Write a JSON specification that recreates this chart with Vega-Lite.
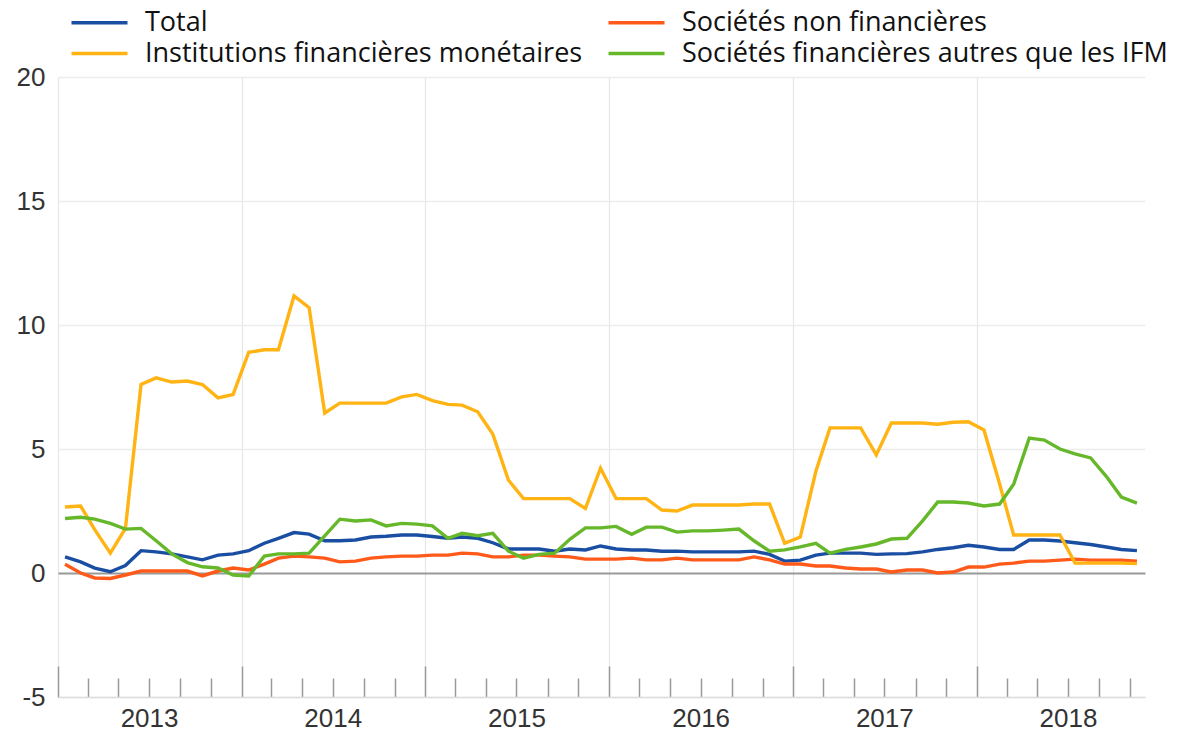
{
  "$schema": "https://vega.github.io/schema/vega-lite/v6.json",
  "width": 1087,
  "height": 620,
  "autosize": {"type": "none"},
  "padding": {"left": 58, "top": 77, "right": 48, "bottom": 34},
  "background": "white",
  "config": {"view": {"stroke": null}, "font": "Liberation Sans"},
  "data": {"values": [
    {"date":"2013-01-15","T":0.65,"S":0.35,"I":2.66,"F":2.2},
    {"date":"2013-02-15","T":0.45,"S":0.0,"I":2.7,"F":2.25},
    {"date":"2013-03-15","T":0.2,"S":-0.2,"I":1.75,"F":2.17},
    {"date":"2013-04-15","T":0.05,"S":-0.22,"I":0.8,"F":2.0},
    {"date":"2013-05-15","T":0.3,"S":-0.08,"I":1.8,"F":1.77},
    {"date":"2013-06-15","T":0.9,"S":0.08,"I":7.6,"F":1.8},
    {"date":"2013-07-15","T":0.85,"S":0.08,"I":7.87,"F":1.3},
    {"date":"2013-08-15","T":0.77,"S":0.08,"I":7.7,"F":0.77},
    {"date":"2013-09-15","T":0.65,"S":0.08,"I":7.74,"F":0.42},
    {"date":"2013-10-15","T":0.53,"S":-0.12,"I":7.6,"F":0.25},
    {"date":"2013-11-15","T":0.72,"S":0.08,"I":7.06,"F":0.2},
    {"date":"2013-12-15","T":0.77,"S":0.2,"I":7.2,"F":-0.08},
    {"date":"2014-01-15","T":0.9,"S":0.12,"I":8.9,"F":-0.12},
    {"date":"2014-02-15","T":1.2,"S":0.36,"I":9.0,"F":0.68},
    {"date":"2014-03-15","T":1.4,"S":0.6,"I":9.0,"F":0.77},
    {"date":"2014-04-15","T":1.63,"S":0.68,"I":11.17,"F":0.77},
    {"date":"2014-05-15","T":1.57,"S":0.65,"I":10.7,"F":0.8},
    {"date":"2014-06-15","T":1.3,"S":0.6,"I":6.45,"F":1.5},
    {"date":"2014-07-15","T":1.3,"S":0.45,"I":6.85,"F":2.17},
    {"date":"2014-08-15","T":1.33,"S":0.48,"I":6.85,"F":2.1},
    {"date":"2014-09-15","T":1.45,"S":0.6,"I":6.85,"F":2.14},
    {"date":"2014-10-15","T":1.48,"S":0.65,"I":6.85,"F":1.9},
    {"date":"2014-11-15","T":1.53,"S":0.68,"I":7.1,"F":2.0},
    {"date":"2014-12-15","T":1.53,"S":0.68,"I":7.2,"F":1.97},
    {"date":"2015-01-15","T":1.47,"S":0.72,"I":6.95,"F":1.9},
    {"date":"2015-02-15","T":1.4,"S":0.72,"I":6.8,"F":1.4},
    {"date":"2015-03-15","T":1.45,"S":0.8,"I":6.77,"F":1.6},
    {"date":"2015-04-15","T":1.4,"S":0.77,"I":6.5,"F":1.5},
    {"date":"2015-05-15","T":1.22,"S":0.65,"I":5.6,"F":1.6},
    {"date":"2015-06-15","T":0.97,"S":0.65,"I":3.75,"F":0.88},
    {"date":"2015-07-15","T":0.97,"S":0.72,"I":3.0,"F":0.6},
    {"date":"2015-08-15","T":0.97,"S":0.72,"I":3.0,"F":0.75},
    {"date":"2015-09-15","T":0.88,"S":0.68,"I":3.0,"F":0.8},
    {"date":"2015-10-15","T":0.97,"S":0.65,"I":3.0,"F":1.36},
    {"date":"2015-11-15","T":0.93,"S":0.56,"I":2.6,"F":1.82},
    {"date":"2015-12-15","T":1.09,"S":0.56,"I":4.23,"F":1.82},
    {"date":"2016-01-15","T":0.97,"S":0.56,"I":3.0,"F":1.88},
    {"date":"2016-02-15","T":0.93,"S":0.6,"I":3.0,"F":1.56},
    {"date":"2016-03-15","T":0.93,"S":0.53,"I":3.0,"F":1.85},
    {"date":"2016-04-15","T":0.88,"S":0.53,"I":2.54,"F":1.85},
    {"date":"2016-05-15","T":0.88,"S":0.6,"I":2.5,"F":1.65},
    {"date":"2016-06-15","T":0.85,"S":0.53,"I":2.74,"F":1.7},
    {"date":"2016-07-15","T":0.85,"S":0.53,"I":2.74,"F":1.7},
    {"date":"2016-08-15","T":0.85,"S":0.53,"I":2.74,"F":1.73},
    {"date":"2016-09-15","T":0.85,"S":0.53,"I":2.74,"F":1.77},
    {"date":"2016-10-15","T":0.88,"S":0.65,"I":2.78,"F":1.3},
    {"date":"2016-11-15","T":0.75,"S":0.53,"I":2.78,"F":0.88},
    {"date":"2016-12-15","T":0.48,"S":0.36,"I":1.2,"F":0.93},
    {"date":"2017-01-15","T":0.52,"S":0.36,"I":1.45,"F":1.05},
    {"date":"2017-02-15","T":0.72,"S":0.28,"I":4.1,"F":1.2},
    {"date":"2017-03-15","T":0.8,"S":0.28,"I":5.85,"F":0.8},
    {"date":"2017-04-15","T":0.8,"S":0.2,"I":5.85,"F":0.95},
    {"date":"2017-05-15","T":0.8,"S":0.16,"I":5.85,"F":1.05},
    {"date":"2017-06-15","T":0.75,"S":0.16,"I":4.76,"F":1.17},
    {"date":"2017-07-15","T":0.77,"S":0.04,"I":6.05,"F":1.37},
    {"date":"2017-08-15","T":0.78,"S":0.12,"I":6.05,"F":1.4},
    {"date":"2017-09-15","T":0.85,"S":0.12,"I":6.05,"F":2.1},
    {"date":"2017-10-15","T":0.95,"S":0.0,"I":6.0,"F":2.86},
    {"date":"2017-11-15","T":1.02,"S":0.04,"I":6.08,"F":2.86},
    {"date":"2017-12-15","T":1.12,"S":0.24,"I":6.1,"F":2.82},
    {"date":"2018-01-15","T":1.05,"S":0.24,"I":5.77,"F":2.7},
    {"date":"2018-02-15","T":0.95,"S":0.36,"I":3.6,"F":2.78},
    {"date":"2018-03-15","T":0.95,"S":0.4,"I":1.53,"F":3.58},
    {"date":"2018-04-15","T":1.33,"S":0.48,"I":1.53,"F":5.44},
    {"date":"2018-05-15","T":1.33,"S":0.48,"I":1.53,"F":5.36},
    {"date":"2018-06-15","T":1.29,"S":0.52,"I":1.53,"F":5.0},
    {"date":"2018-07-15","T":1.22,"S":0.56,"I":0.4,"F":4.8},
    {"date":"2018-08-15","T":1.15,"S":0.52,"I":0.4,"F":4.64},
    {"date":"2018-09-15","T":1.05,"S":0.52,"I":0.4,"F":3.9},
    {"date":"2018-10-15","T":0.95,"S":0.52,"I":0.4,"F":3.06},
    {"date":"2018-11-15","T":0.9,"S":0.48,"I":0.38,"F":2.82}
  ]},
  "transform": [
    {"fold": ["T", "S", "I", "F"], "as": ["serie", "valeur"]}
  ],
  "mark": {"type": "line", "strokeWidth": 3.4, "clip": false},
  "encoding": {
    "x": {
      "field": "date",
      "type": "temporal",
      "scale": {"type": "utc", "domain": [{"year": 2013, "month": 1, "date": 1, "utc": true}, {"year": 2018, "month": 12, "date": 1, "utc": true}]},
      "axis": {
        "title": null,
        "tickCount": {"interval": "month", "step": 2},
        "labelExpr": "utcmonth(datum.value) == 6 ? utcFormat(datum.value, '%Y') : ''",
        "labelFont": "Liberation Sans",
        "labelFontSize": 26,
        "labelColor": "#333333",
        "labelPadding": 27,
        "labelAngle": 0,
        "labelOverlap": false,
        "labelFlush": false,
        "labelBound": false,
        "domainColor": "#dddddd",
        "domainWidth": 1.5,
        "tickColor": "#999999",
        "tickWidth": 1.5,
        "tickSize": {"condition": {"test": "utcmonth(datum.value) == 0", "value": -31}, "value": -19},
        "grid": true,
        "gridColor": "#e6e6e6",
        "gridWidth": 1.2,
        "gridOpacity": {"condition": {"test": "utcmonth(datum.value) == 0", "value": 1}, "value": 0}
      }
    },
    "y": {
      "field": "valeur",
      "type": "quantitative",
      "scale": {"domain": [-5, 20], "nice": false, "zero": false},
      "axis": {
        "title": null,
        "values": [-5, 0, 5, 10, 15, 20],
        "labelExpr": "datum.value < 0 ? '-' + abs(datum.value) : datum.label",
        "domain": false,
        "ticks": false,
        "labelFont": "Liberation Sans",
        "labelFontSize": 26,
        "labelColor": "#333333",
        "labelPadding": 13,
        "gridColor": {"condition": {"test": "datum.value == 0", "value": "#999999"}, "value": "#ececec"},
        "gridWidth": {"condition": {"test": "datum.value == 0", "value": 2}, "value": 1.3}
      }
    },
    "color": {
      "field": "serie",
      "type": "nominal",
      "scale": {
        "domain": ["T", "S", "I", "F"],
        "range": ["#1a4ea2", "#ff5a1a", "#ffb414", "#66b82a"]
      },
      "legend": {
        "orient": "none",
        "legendX": 28,
        "legendY": -68,
        "direction": "horizontal",
        "columns": 2,
        "title": null,
        "symbolType": "M-2.8,0H2.8",
        "symbolSize": 400,
        "symbolStrokeWidth": 3.5,
        "labelFont": "Open Sans",
        "labelFontSize": 27,
        "labelColor": "#111111",
        "columnPadding": 18,
        "rowPadding": 3,
        "labelOffset": 32,
        "labelLimit": 0,
        "labelExpr": "datum.label == 'T' ? 'Total' : datum.label == 'S' ? 'Sociétés non financières' : datum.label == 'I' ? 'Institutions financières monétaires' : 'Sociétés financières autres que les IFM'"
      }
    }
  }
}
